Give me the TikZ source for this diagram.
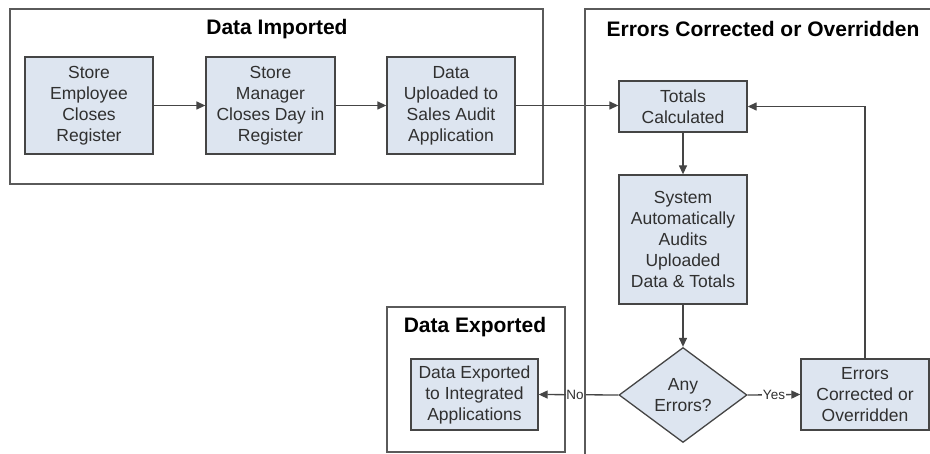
\documentclass[tikz,border=0pt]{standalone}
\usepackage{fontspec}
\setmainfont{Liberation Sans}
\usetikzlibrary{arrows.meta,shapes.geometric}
\definecolor{boxfill}{HTML}{DDE5F0}
\definecolor{boxline}{HTML}{454545}
\definecolor{txt}{HTML}{303030}
\definecolor{frameline}{HTML}{5A5A5A}
\tikzset{
  procbox/.style={draw=boxline, line width=1.3pt, fill=boxfill, text=txt, align=center,
    inner sep=0pt, minimum width=128pt, font=\fontsize{17.5}{21}\selectfont},
  decbox/.style={diamond, aspect=1.35, draw=boxline, line width=1.3pt, fill=boxfill, text=txt,
    align=center, inner sep=0pt, minimum width=128pt, minimum height=95pt, font=\fontsize{17.5}{21}\selectfont},
  frame/.style={draw=frameline, line width=1.2pt},
  title/.style={font=\fontsize{21}{25}\selectfont\bfseries, text=black, inner sep=0pt},
  conn/.style={draw=boxline, line width=1.3pt, -{Triangle[length=9pt,width=8pt]}},
  lbl/.style={fill=white, inner sep=0.5pt, text=txt, font=\fontsize{13.5}{15}\selectfont},
}
\begin{document}
\begin{tikzpicture}[x=1pt,y=-1pt]
\useasboundingbox (0,0) rectangle (930,454);
\clip (0,0) rectangle (930,454);
% frames
\draw[frame] (10,9) rectangle (543,184);
\draw[frame] (387,307) rectangle (565,452);
\node[title] (t1) at (277,29) {Data Imported};
\node[title] (t2) at (763,29) {Errors Corrected or Overridden};
\node[title] (t3) at (475,327) {Data Exported};
% process boxes
\node[procbox, minimum height=97pt] (b1) at (89,105.5) {Store\\Employee\\Closes\\Register};
\node[procbox, minimum height=97pt, minimum width=129pt] (b2) at (270.5,105.5) {Store\\Manager\\Closes Day in\\Register};
\node[procbox, minimum height=97pt] (b3) at (451,105.5) {Data\\Uploaded to\\Sales Audit\\Application};
\node[procbox, minimum height=51pt] (tot) at (683,106.5) {Totals\\Calculated};
\node[procbox, minimum height=129pt] (sys) at (683,239.5) {System\\Automatically\\Audits\\Uploaded\\Data \& Totals};
\node[decbox] (dec) at (683,395) {Any\\Errors?};
\node[procbox, minimum height=71pt] (err) at (865,394.5) {Errors\\Corrected or\\Overridden};
\node[procbox, minimum height=71pt, minimum width=127pt] (exp) at (474.5,394.5) {Data Exported\\to Integrated\\Applications};
% connectors
\draw[conn] (b1) -- (b2);
\draw[conn] (b2) -- (b3);
\draw[conn] (b3.east) -- (b3.east -| tot.west);
\draw[conn] (tot) -- (sys);
\draw[conn] (sys) -- (dec);
\draw[conn] (dec.east) -- node[lbl] (yes) {Yes} (err.west);
\draw[conn] (dec.west) -- node[lbl, pos=0.545] (no) {No} (exp.east);
\coordinate (up) at (err.north |- tot.east);
\draw[conn] (err.north) -- (up) -- (tot.east);
% right frame drawn last so its edge stays visible
\draw[frame] (585,9) rectangle (945,470);
\end{tikzpicture}
\end{document}
